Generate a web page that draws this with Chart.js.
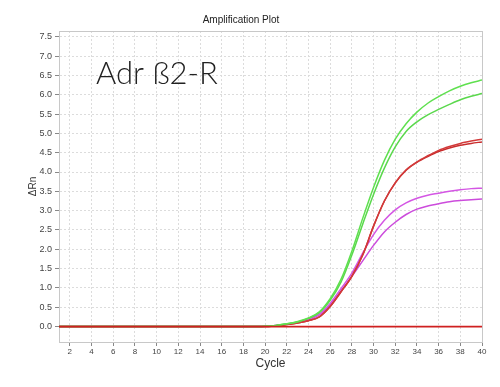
<!DOCTYPE html>
<html>
<head>
<meta charset="utf-8">
<script src="https://cdn.jsdelivr.net/npm/chart.js@4"></script>
<style>
  html, body { margin: 0; padding: 0; background: #fff; }
  #wrap { width: 500px; height: 387px; position: relative; }
</style>
</head>
<body>
<div id="wrap"><canvas id="myChart" width="500" height="387"></canvas></div>
<script>
// cycle numbers
var cycles = [1, 2, 3, 4, 5, 6, 7, 8, 9, 10, 11, 12, 13, 14, 15, 16, 17, 18, 19, 20,
              21, 22, 23, 24, 25, 26, 27, 28, 29, 30, 31, 32, 33, 34, 35, 36, 37, 38, 39, 40];

// tick labels
var xTicks = [2, 4, 6, 8, 10, 12, 14, 16, 18, 20, 22, 24, 26, 28, 30, 32, 34, 36, 38, 40];
var yTicks = [0, 0.5, 1, 1.5, 2, 2.5, 3, 3.5, 4, 4.5, 5, 5.5, 6, 6.5, 7, 7.5];

// flat part, cycles 1-19
var flat = [0, 0, 0, 0, 0, 0, 0, 0, 0, 0, 0, 0, 0, 0, 0, 0, 0, 0, 0];

// delta Rn, cycles 20-40
var green1 = flat.concat([0.01, 0.03, 0.07, 0.13, 0.22, 0.38, 0.72, 1.22, 1.95, 2.8, 3.6,
                          4.3, 4.85, 5.25, 5.55, 5.78, 5.95, 6.1, 6.22, 6.31, 6.38]);
var green2 = flat.concat([0.01, 0.03, 0.07, 0.12, 0.21, 0.36, 0.68, 1.15, 1.85, 2.65, 3.42,
                          4.1, 4.65, 5.05, 5.3, 5.48, 5.62, 5.75, 5.87, 5.96, 6.03]);
var red1 = flat.concat([0, 0.02, 0.05, 0.09, 0.15, 0.25, 0.52, 0.9, 1.3, 1.85, 2.6,
                        3.25, 3.72, 4.05, 4.26, 4.42, 4.56, 4.66, 4.74, 4.8, 4.85]);
var red2 = flat.concat([0, 0.02, 0.05, 0.09, 0.15, 0.25, 0.52, 0.9, 1.3, 1.85, 2.6,
                        3.25, 3.72, 4.05, 4.25, 4.4, 4.53, 4.62, 4.69, 4.74, 4.78]);
var magenta1 = flat.concat([0.01, 0.03, 0.06, 0.11, 0.19, 0.32, 0.6, 0.98, 1.38, 1.9, 2.38,
                            2.75, 3.02, 3.2, 3.32, 3.4, 3.45, 3.5, 3.54, 3.57, 3.58]);
var magenta2 = flat.concat([0.01, 0.03, 0.06, 0.11, 0.18, 0.3, 0.56, 0.92, 1.3, 1.7, 2.1,
                            2.45, 2.7, 2.9, 3.04, 3.12, 3.18, 3.23, 3.26, 3.28, 3.3]);
var threshold = [0, 0, 0, 0, 0, 0, 0, 0, 0, 0, 0, 0, 0, 0, 0, 0, 0, 0, 0, 0,
                 0, 0, 0, 0, 0, 0, 0, 0, 0, 0, 0, 0, 0, 0, 0, 0, 0, 0, 0, 0];

function pts(arr) {
  return arr.map(function (v, i) { return { x: cycles[i], y: v }; });
}

function line(arr, color, w) {
  return {
    data: pts(arr),
    borderColor: color,
    borderWidth: w || 1.5,
    pointRadius: 0,
    cubicInterpolationMode: 'monotone',
    fill: false
  };
}

// frame round the plot + the gene label
var extras = {
  id: 'extras',
  beforeDatasetsDraw: function (chart) {
    var a = chart.chartArea, c = chart.ctx;
    c.save();
    c.strokeStyle = '#c8c8c8';
    c.lineWidth = 1;
    c.strokeRect(a.left + 0.5, a.top + 0.5, a.right - a.left, a.bottom - a.top);
    c.restore();
  },
  afterDraw: function (chart) {
    var c = chart.ctx;
    c.save();
    c.fillStyle = '#222';
    c.font = '300 31px Lato';
    c.textBaseline = 'alphabetic';
    c.fillText('Adr \u00df2-R', 96, 84);
    c.restore();
  }
};

var ctx = document.getElementById('myChart').getContext('2d');
var myChart = new Chart(ctx, {
  type: 'line',
  data: {
    datasets: [
      line(threshold, '#cf2020', 1.8),
      line(green1, '#5fe04f'),
      line(green2, '#5ad84c'),
      line(red1, '#d23a3a'),
      line(red2, '#c92c2c'),
      line(magenta1, '#d456e4'),
      line(magenta2, '#cc4cdc')
    ]
  },
  options: {
    responsive: false,
    animation: false,
    layout: { padding: { left: 0, right: 18, top: 0, bottom: 0 } },
    plugins: {
      legend: { display: false },
      tooltip: { enabled: false },
      title: {
        display: true,
        text: 'Amplification Plot',
        color: '#222',
        font: { family: 'Arial, Liberation Sans', size: 10, weight: 'normal' },
        padding: { top: 14, bottom: 5 }
      }
    },
    scales: {
      x: {
        type: 'linear',
        min: 1,
        max: 40,
        afterBuildTicks: function (s) {
          s.ticks = xTicks.map(function (v) { return { value: v }; });
        },
        afterFit: function (s) { s.height = 45; },
        ticks: {
          color: '#444',
          font: { family: 'Arial, Liberation Sans', size: 8 },
          maxRotation: 0,
          autoSkip: false,
          padding: 1
        },
        grid: {
          color: '#dcdcdc',
          tickColor: '#888',
          tickLength: 4
        },
        border: { color: '#999', dash: [2, 2] },
        title: {
          display: true,
          text: 'Cycle',
          color: '#333',
          font: { family: 'Arial, Liberation Sans', size: 12 },
          padding: { top: 0, bottom: 16 }
        }
      },
      y: {
        min: -0.4,
        max: 7.65,
        afterBuildTicks: function (s) {
          s.ticks = yTicks.map(function (v) { return { value: v }; });
        },
        afterFit: function (s) { s.width = 59; },
        ticks: {
          color: '#444',
          font: { family: 'Arial, Liberation Sans', size: 9 },
          autoSkip: false,
          padding: 3,
          callback: function (v) { return v.toFixed(1); }
        },
        grid: {
          color: '#dcdcdc',
          tickColor: '#888',
          tickLength: 4
        },
        border: { color: '#999', dash: [2, 2] },
        title: {
          display: true,
          text: '\u0394Rn',
          color: '#333',
          font: { family: 'Arial, Liberation Sans', size: 10 },
          padding: { top: 27, bottom: 0 }
        }
      }
    }
  },
  plugins: [extras]
});
</script>
</body>
</html>
